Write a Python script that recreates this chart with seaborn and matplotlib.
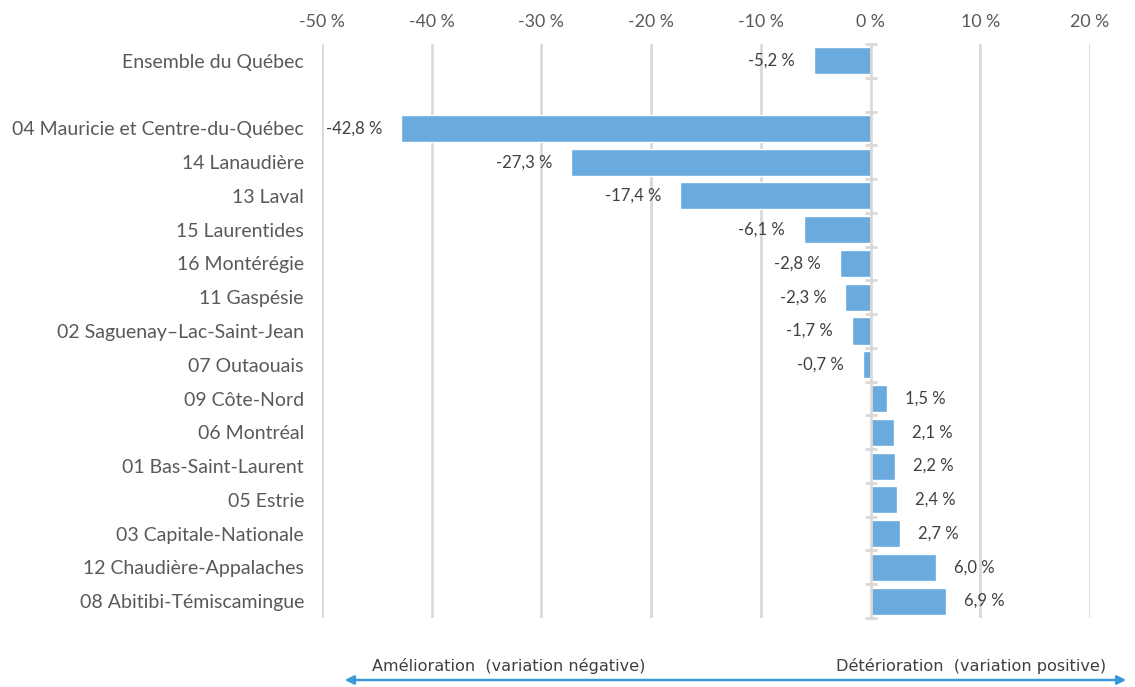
import matplotlib
matplotlib.use("Agg")
import matplotlib.pyplot as plt
import seaborn as sns
import pandas as pd
import numpy as np

categories = [
    "Ensemble du Québec",
    " ",
    "04 Mauricie et Centre-du-Québec",
    "14 Lanaudière",
    "13 Laval",
    "15 Laurentides",
    "16 Montérégie",
    "11 Gaspésie",
    "02 Saguenay–Lac-Saint-Jean",
    "07 Outaouais",
    "09 Côte-Nord",
    "06 Montréal",
    "01 Bas-Saint-Laurent",
    "05 Estrie",
    "03 Capitale-Nationale",
    "12 Chaudière-Appalaches",
    "08 Abitibi-Témiscamingue",
]
values = [-5.2, np.nan, -42.8, -27.3, -17.4, -6.1, -2.8, -2.3, -1.7, -0.7,
          1.5, 2.1, 2.2, 2.4, 2.7, 6.0, 6.9]
xticks = [-50, -40, -30, -20, -10, 0, 10, 20]
left_note = "Amélioration  (variation négative)"
right_note = "Détérioration  (variation positive)"

sns.set_theme(style="white")
plt.rcParams["font.family"] = ["Lato", "DejaVu Sans"]

df = pd.DataFrame({"cat": categories, "val": values}).dropna()

fig = plt.figure(figsize=(11.35, 6.87), dpi=100)
ax = fig.add_axes([322 / 1135, 1 - 618 / 687, (1090 - 322) / 1135, (618 - 44) / 687])

bar_color = "#6aaadc"
sns.barplot(data=df, x="val", y="cat", order=categories, orient="h",
            color=bar_color, saturation=1, width=0.8, edgecolor="white",
            linewidth=1, ax=ax, zorder=3)

ax.set_xlim(-50, 20)
ax.set_ylim(len(categories) - 0.5, -0.5)
ax.xaxis.tick_top()
ax.set_xticks(xticks)
ax.set_xticklabels([f"{t} %" for t in xticks], color="#595959", fontsize=12.8)
ax.tick_params(axis="x", length=0, pad=10)
ax.tick_params(axis="y", length=0, pad=13)
for lab in ax.get_yticklabels():
    lab.set_color("#595959")
    lab.set_fontsize(14)
ax.set_xlabel("")
ax.set_ylabel("")
for s in ax.spines.values():
    s.set_visible(False)

# grid lines
for t in xticks:
    if t != 0:
        ax.axvline(t, color="#d9d9d9", lw=2, zorder=1)
ax.axvline(0, color="#d9d9d9", lw=2, zorder=4)
# small ticks on zero axis at category boundaries
bounds = np.arange(len(categories) + 1) - 0.5
ax.plot(np.zeros_like(bounds), bounds, linestyle="none", marker="_",
        markersize=9, markeredgewidth=2, color="#d9d9d9", zorder=4, clip_on=False)

# data labels
for i, (c, v) in enumerate(zip(categories, values)):
    if np.isnan(v):
        continue
    txt = f"{v:.1f} %".replace(".", ",")
    if v < 0:
        ax.annotate(txt, (v, i), xytext=(-13.5, 0), textcoords="offset points",
                    ha="right", va="center", fontsize=12, color="#404040")
    else:
        ax.annotate(txt, (v, i), xytext=(13, 0), textcoords="offset points",
                    ha="left", va="center", fontsize=12, color="#404040")

# bottom arrow and notes
fig.patches.append(matplotlib.patches.FancyArrowPatch(
    (342 / 1135, 1 - 680 / 687), (1129 / 1135, 1 - 680 / 687),
    transform=fig.transFigure, arrowstyle="<|-|>", mutation_scale=13,
    color="#3a9ad9", lw=1.8))
fig.text(372 / 1135, 1 - 666 / 687, left_note, ha="left", va="center",
         fontsize=11.6, color="#404040", family="DejaVu Sans")
fig.text(1106 / 1135, 1 - 666 / 687, right_note, ha="right", va="center",
         fontsize=11.6, color="#404040", family="DejaVu Sans")

fig.savefig("out.png", dpi=100)
